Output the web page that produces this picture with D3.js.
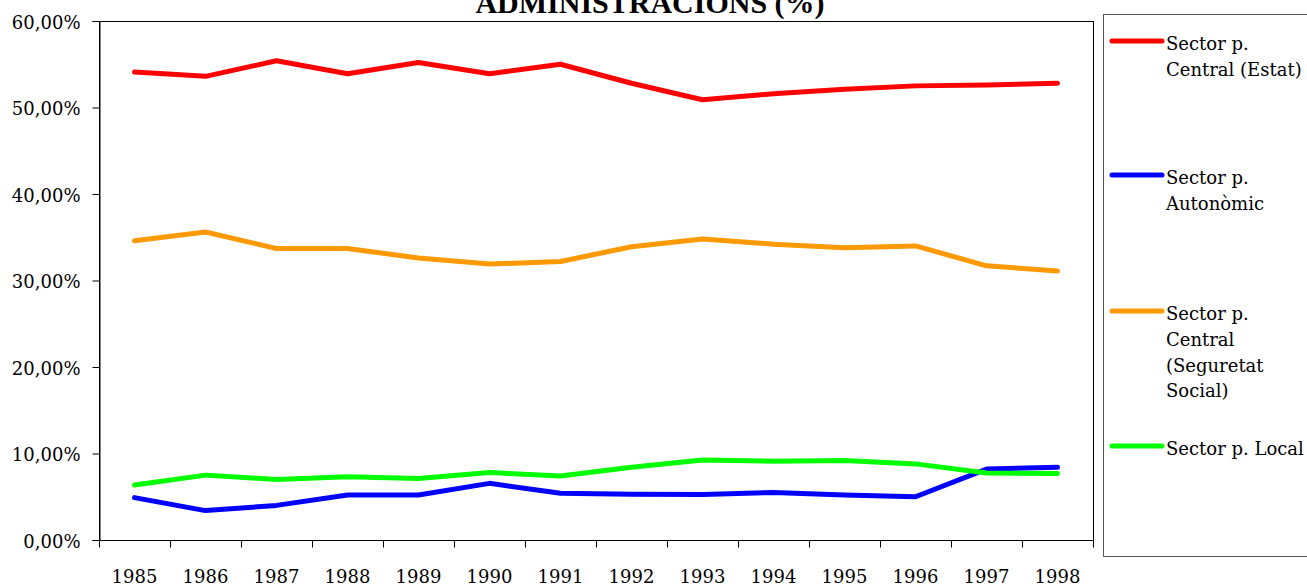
<!DOCTYPE html>
<html>
<head>
<meta charset="utf-8">
<script src="https://cdn.jsdelivr.net/npm/d3@7"></script>
<style>
  body { margin: 0; background: #fff; }
  svg { display: block; }
  text { font-family: "DejaVu Serif", serif; fill: #000; }
</style>
</head>
<body>
<div id="chart"></div>
<script>
'use strict';

// años del eje
var years = ["1985","1986","1987","1988","1989","1990","1991","1992","1993","1994","1995","1996","1997","1998"];

// valores (%)
var estat     = [54.1, 53.6, 55.4, 53.9, 55.2, 53.9, 55.0, 52.8, 50.9, 51.6, 52.1, 52.5, 52.6, 52.8];
var autonomic = [4.9, 3.4, 4.0, 5.2, 5.2, 6.55, 5.4, 5.3, 5.25, 5.5, 5.2, 5.0, 8.2, 8.4];
var segSocial = [34.6, 35.6, 33.7, 33.7, 32.6, 31.9, 32.2, 33.9, 34.8, 34.2, 33.8, 34.0, 31.7, 31.1];
var local     = [6.36, 7.5, 7.0, 7.3, 7.1, 7.8, 7.4, 8.4, 9.25, 9.1, 9.2, 8.8, 7.75, 7.7];

var yTicks = [0, 10, 20, 30, 40, 50, 60];

var seriesNames = [
  ["Sector p.", "Central (Estat)"],
  ["Sector p.", "Autonòmic"],
  ["Sector p.", "Central", "(Seguretat", "Social)"],
  ["Sector p. Local"]
];
var seriesColors = ["#ff0000", "#0000ff", "#ff9900", "#00ff00"];
var seriesValues = [estat, autonomic, segSocial, local];

var width = 1307, height = 585;
var margin = {top: 21, left: 99, right: 214, bottom: 45};

var svg = d3.select("#chart").append("svg")
    .attr("width", width)
    .attr("height", height);

var x = d3.scaleBand()
    .domain(years)
    .range([margin.left, width - margin.right]);

var y = d3.scaleLinear()
    .domain([0, 60])
    .range([height - margin.bottom, margin.top]);

// marco del area de dibujo
svg.append("rect")
    .attr("x", x.range()[0] + 0.5)
    .attr("y", y(60) + 0.5)
    .attr("width", x.range()[1] - x.range()[0])
    .attr("height", y(0) - y(60))
    .attr("fill", "none")
    .attr("stroke", "#000")
    .attr("stroke-width", 1);

// eje Y
var fmt = function(d){ return d3.format(".2f")(d).replace(".", ",") + "%"; };
var yAxis = svg.append("g")
    .attr("transform", "translate(" + (margin.left + 0.5) + ",0)")
    .call(d3.axisLeft(y).tickValues(yTicks).tickFormat(fmt).tickSize(7).tickPadding(12));
yAxis.select(".domain").attr("stroke", "#000");
yAxis.selectAll("text")
    .style("font-family", "DejaVu Serif")
    .style("font-size", "18px")
    .attr("dy", "0.4em");

// eje X: marcas entre categorias
var xg = svg.append("g")
    .attr("transform", "translate(0," + (y(0) + 0.5) + ")");
xg.append("line")
    .attr("x1", x.range()[0]).attr("x2", x.range()[1])
    .attr("stroke", "#000");
var bounds = years.map(function(d){ return x(d); }).concat([x.range()[1]]);
xg.selectAll("line.tk")
    .data(bounds)
    .join("line")
    .attr("class", "tk")
    .attr("x1", function(d){ return Math.round(d) + 0.5; })
    .attr("x2", function(d){ return Math.round(d) + 0.5; })
    .attr("y1", 0).attr("y2", 7)
    .attr("stroke", "#000");
xg.selectAll("text")
    .data(years)
    .join("text")
    .attr("x", function(d){ return x(d) + x.bandwidth() / 2; })
    .attr("y", 42)
    .attr("text-anchor", "middle")
    .style("font-size", "18px")
    .text(function(d){ return d; });

// lineas
var line = d3.line()
    .x(function(d, i){ return x(years[i]) + x.bandwidth() / 2; })
    .y(function(d){ return y(d); });

svg.append("g")
    .selectAll("path")
    .data(seriesValues)
    .join("path")
    .attr("d", line)
    .attr("fill", "none")
    .attr("stroke", function(d, i){ return seriesColors[i]; })
    .attr("stroke-width", 5)
    .attr("stroke-linejoin", "round")
    .attr("stroke-linecap", "round");

// titulo (cortado arriba)
svg.append("text")
    .attr("x", 650)
    .attr("y", 13)
    .attr("text-anchor", "middle")
    .style("font-family", "Liberation Serif")
    .style("font-weight", "bold")
    .style("font-size", "30px")
    .text("ADMINISTRACIONS (%)");

// leyenda
var legendY = [41, 175, 311, 446];
svg.append("rect")
    .attr("x", 1103.5).attr("y", 14.5)
    .attr("width", 220).attr("height", 542)
    .attr("fill", "none")
    .attr("stroke", "#555");

var leg = svg.append("g")
    .selectAll("g")
    .data(seriesNames)
    .join("g")
    .attr("transform", function(d, i){ return "translate(1111," + legendY[i] + ")"; });

leg.append("line")
    .attr("x1", 1).attr("x2", 51)
    .attr("stroke", function(d, i){ return seriesColors[i]; })
    .attr("stroke-width", 5)
    .attr("stroke-linecap", "round");

leg.append("text")
    .attr("x", 55)
    .style("font-size", "18px")
    .selectAll("tspan")
    .data(function(d){ return d; })
    .join("tspan")
    .attr("x", 55)
    .attr("y", function(d, i){ return 9 + i * 25.8; })
    .text(function(d){ return d; });
</script>
</body>
</html>
